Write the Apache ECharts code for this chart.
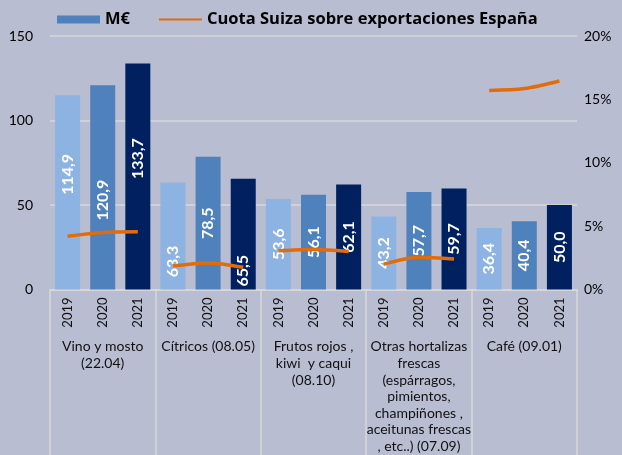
<!DOCTYPE html>
<html>
<head>
<meta charset="utf-8">
<script src="https://cdn.jsdelivr.net/npm/echarts@6/dist/echarts.min.js"></script>
<style>
  html, body { margin: 0; padding: 0; background: #b8bdd2; }
  #chart { width: 622px; height: 455px; }
</style>
</head>
<body>
<div id="chart"></div>
<script>
// datos
const groups = ['Vino y mosto\n(22.04)', 'Cítricos (08.05)', 'Frutos rojos ,\nkiwi  y caqui\n(08.10)',
    'Otras hortalizas\nfrescas\n(espárragos,\npimientos,\nchampiñones ,\naceitunas frescas\n, etc..) (07.09)', 'Café (09.01)'];
const years = ['2019', '2020', '2021'];
const valores = [114.9, 120.9, 133.7, 63.3, 78.5, 65.5, 53.6, 56.1, 62.1, 43.2, 57.7, 59.7, 36.4, 40.4, 50.0];
const cuota = [4.2, 4.5, 4.55, 1.85, 2.1, 1.75, 3.05, 3.15, 3.0, 2.0, 2.55, 2.4, 15.7, 15.85, 16.45];

const colores = ['#8db3e2', '#4f81bd', '#002060'];
// etiquetas movidas a mano en el original (distancia desde el techo de la barra)
const labelAt = { 0: 79, 1: 115, 2: 95, 3: 79, 5: 92 };

const cats = [];
groups.forEach(() => years.forEach(y => cats.push(y)));

const barData = valores.map((v, i) => {
    const item = { value: v, itemStyle: { color: colores[i % 3] } };
    if (labelAt[i] !== undefined) {
        item.label = { position: ['50%', labelAt[i]] };
    }
    return item;
});

// la línea va por tramos, uno por grupo
const lineSeries = groups.map((g, k) => ({
    type: 'line',
    name: 'Cuota Suiza sobre exportaciones España',
    xAxisIndex: 0,
    yAxisIndex: 1,
    data: cats.map((c, i) => (Math.floor(i / 3) === k ? cuota[i] : null)),
    symbol: 'none',
    smooth: 0.3,
    connectNulls: false,
    lineStyle: { color: '#e36c0a', width: 3.5 },
    itemStyle: { color: '#e36c0a' },
    z: 5
}));

const chart = echarts.init(document.getElementById('chart'));
const font = 'Lato, "Open Sans", sans-serif';
const grid = '#d9d9d9';

chart.setOption({
    backgroundColor: '#b8bdd2',
    textStyle: { fontFamily: font },
    animation: false,
    legend: {
        left: 52,
        top: 6,
        itemWidth: 43,
        itemHeight: 8,
        itemGap: 28,
        textStyle: { fontFamily: '"Open Sans", sans-serif', fontWeight: 'bold', fontSize: 16.5, color: '#000' },
        data: [
            { name: 'M€', icon: 'rect' },
            { name: 'Cuota Suiza sobre exportaciones España', itemStyle: { opacity: 0 } }
        ]
    },
    grid: { left: 50, right: 45, top: 36, bottom: 165.5 },
    xAxis: [
        {
            type: 'category',
            data: cats,
            axisLine: { show: true, lineStyle: { color: grid, width: 1.5 } },
            axisTick: { show: false },
            axisLabel: { rotate: 90, fontSize: 13, color: '#111', margin: 8, fontFamily: font }
        },
        {
            type: 'category',
            data: groups,
            position: 'bottom',
            axisLine: { show: false },
            axisTick: { show: true, length: 170, lineStyle: { color: grid, width: 1.5 } },
            axisLabel: { fontSize: 14, color: '#111', margin: 49, lineHeight: 16.6, fontFamily: font, interval: 0 }
        }
    ],
    yAxis: [
        {
            type: 'value',
            min: 0, max: 150, interval: 50,
            axisLine: { show: false },
            axisTick: { show: false },
            splitLine: { lineStyle: { color: grid, width: 1.5 } },
            axisLabel: { fontSize: 14, color: '#000', margin: 17, fontFamily: font }
        },
        {
            type: 'value',
            min: 0, max: 20, interval: 5,
            axisLine: { show: false },
            axisTick: { show: false },
            splitLine: { show: false },
            axisLabel: { fontSize: 14, color: '#000', margin: 7, formatter: '{value}%', fontFamily: font }
        }
    ],
    series: [
        {
            type: 'bar',
            name: 'M€',
            xAxisIndex: 0,
            yAxisIndex: 0,
            barWidth: 25,
            data: barData,
            itemStyle: { color: '#4f81bd' },
            label: {
                show: true,
                position: 'inside',
                rotate: 90,
                align: 'center',
                verticalAlign: 'middle',
                color: '#fff',
                fontWeight: 'bold',
                fontSize: 16,
                fontFamily: font,
                formatter: p => p.value.toFixed(1).replace('.', ',')
            },
            z: 2
        }
    ].concat(lineSeries)
});
</script>
</body>
</html>
